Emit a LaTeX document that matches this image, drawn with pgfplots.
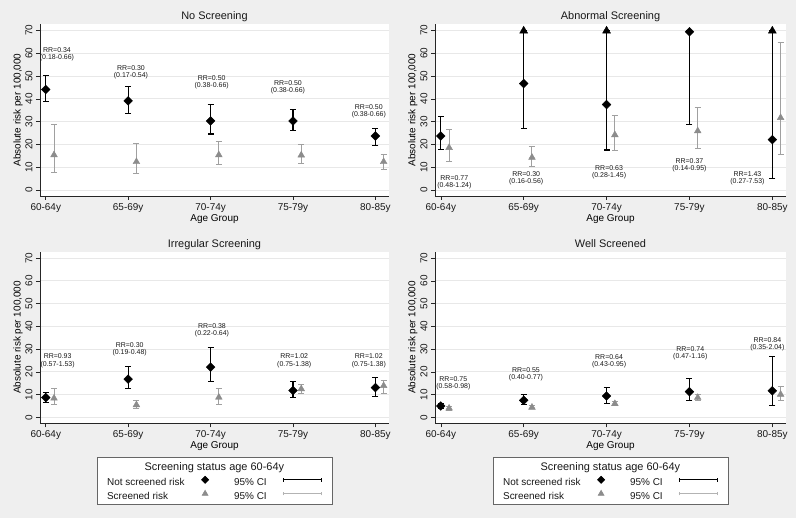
\documentclass[border=0pt]{standalone}
\usepackage{fontspec}
\setmainfont{Liberation Sans}
\usepackage{pgfplots}
\pgfplotsset{compat=1.18}
\usepackage{pgfplotstable}

\definecolor{bgc}{RGB}{239,239,239}
\definecolor{gridc}{RGB}{232,232,232}
\definecolor{scrm}{RGB}{140,140,140}
\definecolor{scrl}{RGB}{160,160,160}
\definecolor{txt}{RGB}{25,25,25}

% square diamond, as wide as it is tall
\pgfdeclareplotmark{sdiamond}{%
  \pgfpathmoveto{\pgfqpoint{0pt}{\pgfplotmarksize}}%
  \pgfpathlineto{\pgfqpoint{\pgfplotmarksize}{0pt}}%
  \pgfpathlineto{\pgfqpoint{0pt}{-\pgfplotmarksize}}%
  \pgfpathlineto{\pgfqpoint{-\pgfplotmarksize}{0pt}}%
  \pgfpathclose
  \pgfusepathqfillstroke}

% x y lo hi  (not screened at x, screened at x+0.1)
\pgfplotstableread{
x y lo hi
1 44.1 38.9 50.2
2 39.1 33.6 45.3
3 30.3 24.6 37.4
4 30.3 26.1 35.4
5 23.7 19.5 27.1
}\nsNo
\pgfplotstableread{
x y lo hi
1.1 15.4 7.9 28.8
2.1 12.4 7.1 20.4
3.1 15.4 11.1 21.1
4.1 15.3 11.5 19.9
5.1 12.4 9.2 15.6
}\scNo
\pgfplotstableread{
x y lo hi
1 23.7 17.8 32.2
2 46.7 27.1 70
3 37.5 17.6 70
4 69.4 28.7 70
5 22.1 4.9 70
}\nsAb
\pgfplotstableread{
x y lo hi
1.1 18.6 12.5 26.6
2.1 14.3 10.3 19.1
3.1 24.2 17.5 32.7
4.1 25.9 18.3 36.2
5.1 31.7 15.4 64.5
}\scAb
\pgfplotstableread{
x y lo hi
1 8.7 6.6 10.9
2 16.8 12.8 22.4
3 22.1 15.9 30.8
4 11.8 8.8 15.8
5 13.1 9.3 17.5
}\nsIr
\pgfplotstableread{
x y lo hi
1.1 8.4 5.5 12.7
2.1 5.5 3.7 7.4
3.1 8.8 5.6 12.7
4.1 12.5 10.6 14.4
5.1 13.9 10.5 16.2
}\scIr
\pgfplotstableread{
x y lo hi
1 5.0 4.0 6.0
2 7.5 5.6 10.0
3 9.4 6.2 13.2
4 11.3 7.5 17.0
5 11.7 5.1 26.9
}\nsWe
\pgfplotstableread{
x y lo hi
1.1 4.0 3.2 4.7
2.1 4.4 3.7 5.1
3.1 6.0 5.1 6.9
4.1 8.7 7.2 10.0
5.1 10.1 7.2 13.6
}\scWe

\tikzset{rr/.style={font=\fontsize{7}{7.2}\selectfont, align=center, text=txt, inner sep=0pt}}

\pgfplotsset{
  panel/.style={
    scale only axis, width=349bp, height=172bp,
    xmin=0.93, xmax=5.165, ymin=-2.6, ymax=72.8,
    axis x line*=bottom, axis y line*=left,
    axis line style={black!85, line width=0.6bp, -},
    axis background/.style={fill=white},
    tick align=outside, major tick length=4bp,
    tick style={black!85, line width=0.6bp},
    xtick={1,...,5}, xticklabels={60-64y,65-69y,70-74y,75-79y,80-85y},
    ytick={0,10,...,70},
    ymajorgrids, grid style={gridc, line width=0.9bp},
    tick label style={font=\fontsize{10}{12}\selectfont, text=txt},
    yticklabel style={rotate=90, anchor=south},
    /pgf/number format/assume math mode=true,
    xlabel={Age Group}, ylabel={Absolute risk per 100,000},
    label style={font=\fontsize{10}{12}\selectfont, text=txt},
    every axis x label/.style={at={(axis description cs:0.5,0)}, anchor=base, yshift=-25.5bp},
    every axis y label/.style={at={(axis description cs:-0.063,0.5)}, rotate=90, anchor=center},
    every axis title/.style={at={(axis description cs:0.5,1)}, anchor=base, yshift=4bp,
      font=\fontsize{11}{13}\selectfont, text=txt},
    clip=false,
  },
  ns/.style={only marks, mark=sdiamond, mark size=4.4pt,
    mark options={black, fill=black},
    error bars/.cd, y dir=both, y explicit, error mark=-,
    error bar style={black, line width=1.2bp},
    error mark options={rotate=90, black, line width=1.2bp, mark size=3bp}},
  sc/.style={only marks, mark=triangle*, mark size=3.9pt,
    mark options={scrm, fill=scrm},
    error bars/.cd, y dir=both, y explicit, error mark=-,
    error bar style={scrl, line width=1bp},
    error mark options={rotate=90, scrl, line width=1bp, mark size=3bp}},
  leg/.style={
    legend style={at={(axis description cs:0.5,-0.196)}, anchor=north,
      draw=black!60, fill=white, line width=0.6bp,
      inner xsep=10bp, inner ysep=3bp, column sep=0pt, row sep=2.5bp,
      nodes={inner sep=0pt, text height=7.5bp, text depth=2.5bp,
        font=\fontsize{10}{12}\selectfont, text=txt}},
    legend columns=2, legend plot pos=right, legend cell align=left},
  dleg/.style={legend image code/.code={
    \path[draw=none, fill=none] (0bp,0bp) rectangle (20bp,0bp);
    \path[draw=black, fill=black, mark=sdiamond, mark size=3.6pt, only marks]
      plot coordinates {(10bp,3bp)};}},
  tleg/.style={legend image code/.code={
    \path[draw=none, fill=none] (0bp,0bp) rectangle (20bp,0bp);
    \path[draw=scrm, fill=scrm, mark=triangle*, mark size=3.4pt, only marks]
      plot coordinates {(10bp,3bp)};}},
  cleg/.style={legend image code/.code={
    \draw[#1, line width=0.8bp] (0bp,3bp) -- (39bp,3bp);
    \draw[#1, line width=0.8bp] (0.4bp,1.3bp) -- (0.4bp,4.7bp) (38.6bp,1.3bp) -- (38.6bp,4.7bp);}},
}

\newcommand{\series}[2]{%
  \addplot[sc] table[x=x, y=y, y error plus expr=\thisrow{hi}-\thisrow{y},
    y error minus expr=\thisrow{y}-\thisrow{lo}] {#2};
  \addplot[ns] table[x=x, y=y, y error plus expr=\thisrow{hi}-\thisrow{y},
    y error minus expr=\thisrow{y}-\thisrow{lo}] {#1};
}
\newcommand{\legendrows}{%
  \addlegendimage{empty legend}
  \addlegendentry[text height=10.5bp, text depth=3bp]{\makebox[0pt][l]{\hspace{37bp}\fontsize{11}{13}\selectfont Screening status age 60-64y}}
  \addlegendimage{empty legend}
  \addlegendentry{}
  \addlegendimage{dleg}
  \addlegendentry{\makebox[88bp][l]{Not screened risk}}
  \addlegendimage{cleg, black}
  \addlegendentry{\makebox[67bp][l]{\hspace{19bp}95\% CI}}
  \addlegendimage{tleg}
  \addlegendentry{\makebox[88bp][l]{Screened risk}}
  \addlegendimage{cleg, scrl!80}
  \addlegendentry{\makebox[67bp][l]{\hspace{19bp}95\% CI}}
}

\begin{document}
\begin{tikzpicture}
\useasboundingbox (0,0) rectangle (796bp,518bp);
\fill[bgc] (0,0) rectangle (796bp,518bp);

% No Screening
\begin{axis}[panel, at={(40bp,322bp)}, anchor=south west, title={No Screening}]
  \series{\nsNo}{\scNo}
  \node[rr] at (axis cs:1.136,59.6) {RR=0.34\\(0.18-0.66)};
  \node[rr] at (axis cs:2.034,51.6) {RR=0.30\\(0.17-0.54)};
  \node[rr] at (axis cs:3.013,47.4) {RR=0.50\\(0.38-0.66)};
  \node[rr] at (axis cs:3.939,44.9) {RR=0.50\\(0.38-0.66)};
  \node[rr] at (axis cs:4.92,34.7) {RR=0.50\\(0.38-0.66)};
\end{axis}

% Abnormal Screening
\begin{axis}[panel, width=351bp, at={(435bp,322bp)}, anchor=south west, title={Abnormal Screening}]
  \series{\nsAb}{\scAb}
  \addplot[only marks, mark=triangle*, mark size=4.6pt, black] coordinates {(2,69.8) (3,69.8) (5,69.8)};
  \node[rr] at (axis cs:1.163,3.35) {RR=0.77\\(0.48-1.24)};
  \node[rr] at (axis cs:2.03,5.2) {RR=0.30\\(0.16-0.56)};
  \node[rr] at (axis cs:3.03,7.8) {RR=0.63\\(0.28-1.45)};
  \node[rr] at (axis cs:4.0,10.8) {RR=0.37\\(0.14-0.95)};
  \node[rr] at (axis cs:4.70,5.0) {RR=1.43\\(0.27-7.53)};
\end{axis}

% Irregular Screening
\begin{axis}[panel, leg, height=171.6bp, at={(40bp,94.7bp)}, anchor=south west, title={Irregular Screening}]
  \legendrows
  \series{\nsIr}{\scIr}
  \node[rr] at (axis cs:1.144,24.9) {RR=0.93\\(0.57-1.53)};
  \node[rr] at (axis cs:2.018,30.05) {RR=0.30\\(0.19-0.48)};
  \node[rr] at (axis cs:3.017,38.1) {RR=0.38\\(0.22-0.64)};
  \node[rr] at (axis cs:4.015,24.9) {RR=1.02\\(0.75-1.38)};
  \node[rr] at (axis cs:4.92,24.9) {RR=1.02\\(0.75-1.38)};
\end{axis}

% Well Screened
\begin{axis}[panel, leg, width=351bp, height=171.6bp, at={(435bp,94.7bp)}, anchor=south west, title={Well Screened}]
  \legendrows
  \series{\nsWe}{\scWe}
  \node[rr] at (axis cs:1.151,15.0) {RR=0.75\\(0.58-0.98)};
  \node[rr] at (axis cs:2.028,19.0) {RR=0.55\\(0.40-0.77)};
  \node[rr] at (axis cs:3.03,24.7) {RR=0.64\\(0.43-0.95)};
  \node[rr] at (axis cs:4.01,28.1) {RR=0.74\\(0.47-1.16)};
  \node[rr] at (axis cs:4.94,32.05) {RR=0.84\\(0.35-2.04)};
\end{axis}
\end{tikzpicture}
\end{document}
